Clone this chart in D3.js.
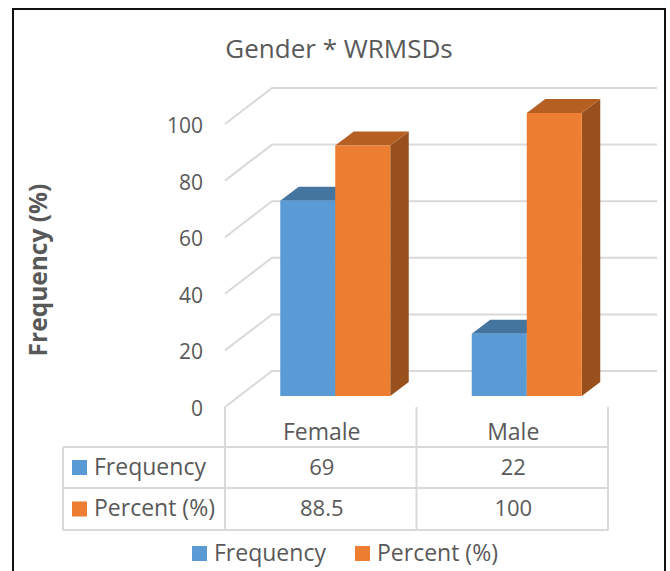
<!DOCTYPE html>
<html>
<head>
<meta charset="utf-8">
<script src="https://cdn.jsdelivr.net/npm/d3@7"></script>
<style>
  html, body { margin: 0; padding: 0; background: #fff; }
  svg { display: block; }
  text { font-family: "Open Sans", sans-serif; fill: #595959; }
</style>
</head>
<body>
<script>
var categories = ['Female', 'Male'];
var seriesNames = ['Frequency', 'Percent (%)'];
var frequency = [69, 22];
var percent = [88.5, 100];
var percentLabels = ['88.5', '100'];
var yTicks = [0, 20, 40, 60, 80, 100];

var width = 670, height = 571;
var colors = {
  'Frequency': { front: '#5b9bd5', top: '#44759f', side: '#3d6b94' },
  'Percent (%)': { front: '#ed7d31', top: '#b55f22', side: '#98501c' }
};
var gridColor = '#d9d9d9';

var svg = d3.select('body').append('svg')
  .attr('width', width)
  .attr('height', height);

// outer frame runs off the bottom of the picture
svg.append('rect')
  .attr('x', 13).attr('y', 9)
  .attr('width', 652).attr('height', height)
  .attr('fill', 'none')
  .attr('stroke', '#111')
  .attr('stroke-width', 2);

svg.append('text')
  .attr('x', 339).attr('y', 58)
  .attr('text-anchor', 'middle')
  .style('font-size', '26px')
  .text('Gender * WRMSDs');

// floor plane depth (fake 3d)
var depthX = 47, depthY = -36;
var barDepthX = 18.5, barDepthY = -14;
var barOffsetX = 14.5, barOffsetY = -11;

var x = d3.scaleBand().domain(categories).range([225, 608]);
var y = d3.scaleLinear().domain([0, 100]).range([407, 124]);

// gridlines: side wall + back wall
var grid = svg.append('g').attr('fill', 'none').attr('stroke', gridColor).attr('stroke-width', 2);
yTicks.forEach(function(t) {
  grid.append('path').attr('d', d3.line()([
    [x.range()[0], y(t)],
    [x.range()[0] + depthX, y(t) + depthY],
    [x.range()[1] + 49, y(t) + depthY]
  ]));
});

var yAxis = svg.append('g')
  .attr('transform', 'translate(213,0)')
  .call(d3.axisLeft(y).tickValues(yTicks).tickSize(0).tickPadding(10));
yAxis.select('.domain').remove();
yAxis.selectAll('text').style('font-size', '21px').attr('dy', '0.4em');

svg.append('text')
  .attr('transform', 'translate(47,270) rotate(-90)')
  .attr('text-anchor', 'middle')
  .style('font-size', '24.5px')
  .style('font-weight', 'bold')
  .text('Frequency (%)');

// bars
var series = seriesNames.map(function(name, i) {
  return { name: name, values: i === 0 ? frequency : percent };
});
var inner = d3.scaleBand().domain(seriesNames).range([0, 110]);
var barW = inner.bandwidth();

series.forEach(function(s) {
  var c = colors[s.name];
  var g = svg.append('g');
  categories.forEach(function(cat, i) {
    var left = x(cat) + (x.bandwidth() - 110) / 2 + barOffsetX + inner(s.name);
    var right = left + barW;
    var bottom = y(0) + barOffsetY;
    var top = y(s.values[i]) + barOffsetY;
    g.append('path').attr('fill', c.side).attr('d', d3.line()([
      [right, top], [right + barDepthX, top + barDepthY],
      [right + barDepthX, bottom + barDepthY], [right, bottom]
    ]) + 'Z');
    g.append('path').attr('fill', c.top).attr('d', d3.line()([
      [left, top], [left + barDepthX, top + barDepthY],
      [right + barDepthX, top + barDepthY], [right, top]
    ]) + 'Z');
    g.append('rect')
      .attr('x', left).attr('y', top)
      .attr('width', barW).attr('height', bottom - top)
      .attr('fill', c.front);
  });
});

// data table under the plot
var tableLeft = 63;
var rowY = [447, 488, 530];
var table = svg.append('g').attr('stroke', gridColor).attr('stroke-width', 2);
rowY.forEach(function(ry) {
  table.append('line').attr('x1', tableLeft).attr('x2', x.range()[1]).attr('y1', ry).attr('y2', ry);
});
table.append('line').attr('x1', tableLeft).attr('x2', tableLeft).attr('y1', rowY[0]).attr('y2', rowY[2]);
categories.concat(['end']).forEach(function(cat, i) {
  var vx = x.range()[0] + i * x.bandwidth();
  table.append('line').attr('x1', vx).attr('x2', vx).attr('y1', y(0)).attr('y2', rowY[2]);
});

categories.forEach(function(cat) {
  svg.append('text')
    .attr('x', x(cat) + x.bandwidth() / 2 + 1).attr('y', 440)
    .attr('text-anchor', 'middle')
    .style('font-size', '23px')
    .text(cat);
});

var cellText = [frequency.map(String), percentLabels];
var rowBaseline = [475, 516];
seriesNames.forEach(function(name, r) {
  var cy = (rowY[r] + rowY[r + 1]) / 2;
  svg.append('rect')
    .attr('x', 72).attr('y', cy - 7.5)
    .attr('width', 15).attr('height', 15)
    .attr('fill', colors[name].front);
  svg.append('text')
    .attr('x', 94).attr('y', rowBaseline[r])
    .style('font-size', '23px')
    .text(name);
  categories.forEach(function(cat, i) {
    svg.append('text')
      .attr('x', x(cat) + x.bandwidth() / 2 + 1).attr('y', rowBaseline[r])
      .attr('text-anchor', 'middle')
      .style('font-size', '22px')
      .text(cellText[r][i]);
  });
});

// bottom legend
var legendX = [192, 355];
seriesNames.forEach(function(name, i) {
  svg.append('rect')
    .attr('x', legendX[i]).attr('y', 546)
    .attr('width', 15).attr('height', 15)
    .attr('fill', colors[name].front);
  svg.append('text')
    .attr('x', legendX[i] + 22).attr('y', 561)
    .style('font-size', '23px')
    .text(name);
});
</script>
</body>
</html>
